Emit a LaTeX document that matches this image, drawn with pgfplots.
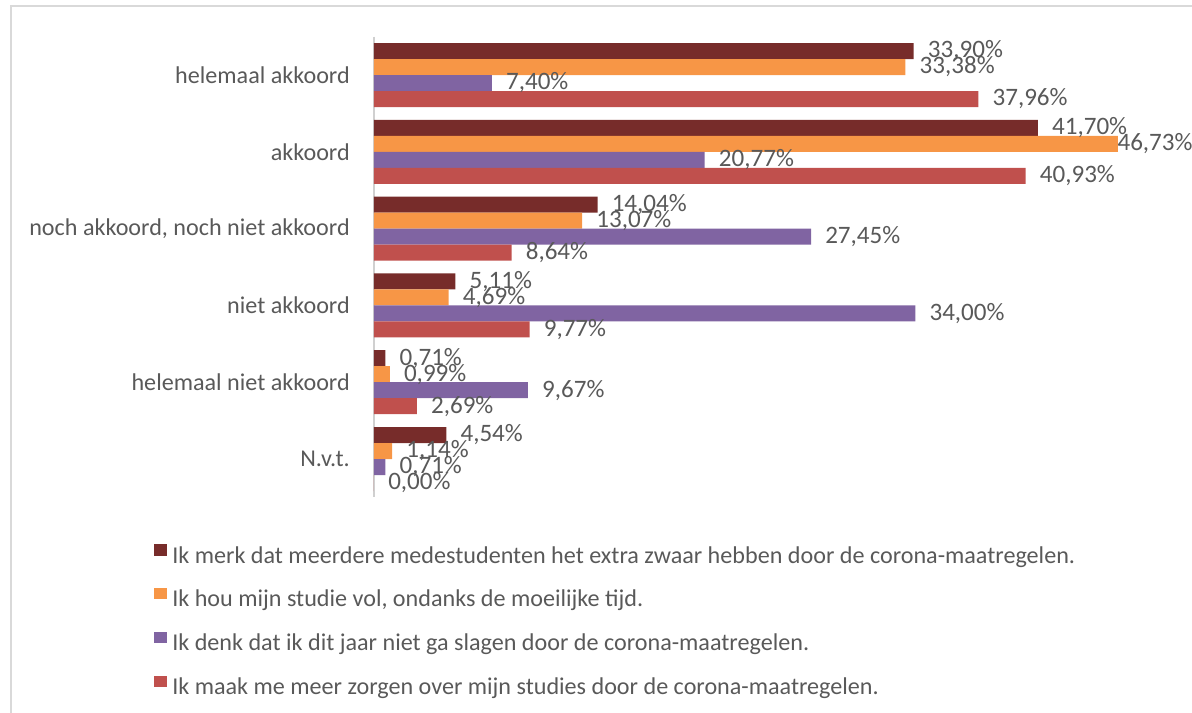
\documentclass[border=0pt]{standalone}
\usepackage{fontspec}
\setmainfont{Carlito}
\usepackage{pgfplots}
\pgfplotsset{compat=1.18}
\definecolor{sA}{HTML}{772C2A}
\definecolor{sB}{HTML}{F79646}
\definecolor{sC}{HTML}{8064A2}
\definecolor{sD}{HTML}{C0504D}
\definecolor{txt}{HTML}{595959}
\definecolor{framec}{HTML}{D9D9D9}
\definecolor{axisc}{HTML}{D0D0D0}
\newcommand\lbl{\fontsize{18.1}{21}\selectfont}
\newcommand\dlbl{\fontsize{18.8}{21}\selectfont}
\begin{document}
\begin{tikzpicture}
\path[use as bounding box] (0,0) rectangle (894pt,-534.75pt);
\draw[framec, line width=1.8pt] (8.25pt,-540pt) -- (8.25pt,-4.5pt) -- (900pt,-4.5pt);
\begin{axis}[
  at={(280.5pt,-373.05pt)}, anchor=south west,
  scale only axis, width=597pt, height=345.6pt,
  xmin=0, xmax=50, ymin=-0.5, ymax=5.5, y dir=reverse,
  axis x line=none, axis y line*=left,
  y axis line style={draw=axisc, line width=1.1pt},
  ytick={0,...,5},
  yticklabels={helemaal akkoord, akkoord, {noch akkoord, noch niet akkoord}, niet akkoord, helemaal niet akkoord, N.v.t.},
  major tick length=0pt,
  yticklabel style={font=\lbl, text=txt, inner sep=0pt, xshift=-18pt},
  xbar=0pt, bar width=12pt,
  clip=false,
  point meta=x,
  visualization depends on={\thisrow{sh} \as \sh},
  nodes near coords={\pgfmathprintnumber[fixed,fixed zerofill,precision=2,use comma,assume math mode=true]{\pgfplotspointmeta}\%},
  every node near coord/.append style={anchor=west, xshift=\sh pt, font=\dlbl, text=txt, inner sep=0pt},
  legend style={at={(axis description cs:-0.2814,-0.0953)}, anchor=north west, draw=none, fill=none, font=\lbl, text=txt,
    row sep=14.75pt, nodes={inner sep=0pt, text height=12pt, text depth=4pt},
    /tikz/every odd column/.append style={column sep=4pt}},
  legend cell align=left,
  legend image code/.code={\fill[#1] (0pt,1.6pt) rectangle (9.5pt,10.1pt);},
]
\addplot[fill=sA, draw=none, bar shift=18pt] table {
x y sh
33.90 0 10.5
41.70 1 10.5
14.04 2 10.5
5.11 3 10.5
0.71 4 10.5
4.54 5 10.5
};
\addplot[fill=sB, draw=none, bar shift=6pt] table {
x y sh
33.38 0 10.5
46.73 1 -0.5
13.07 2 10.5
4.69 3 10.5
0.99 4 10.5
1.14 5 10.5
};
\addplot[fill=sC, draw=none, bar shift=-6pt] table {
x y sh
7.40 0 10.5
20.77 1 10.5
27.45 2 10.5
34.00 3 10.5
9.67 4 10.5
0.71 5 10.5
};
\addplot[fill=sD, draw=none, bar shift=-18pt] table {
x y sh
37.96 0 10.5
40.93 1 10.5
8.64 2 10.5
9.77 3 10.5
2.69 4 10.5
0.00 5 10.5
};
\legend{Ik merk dat meerdere medestudenten het extra zwaar hebben door de corona-maatregelen.,
Ik hou mijn studie vol{,} ondanks de moeilijke tijd.,
Ik denk dat ik dit jaar niet ga slagen door de corona-maatregelen.,
Ik maak me meer zorgen over mijn studies door de corona-maatregelen.}
\end{axis}
\end{tikzpicture}
\end{document}
